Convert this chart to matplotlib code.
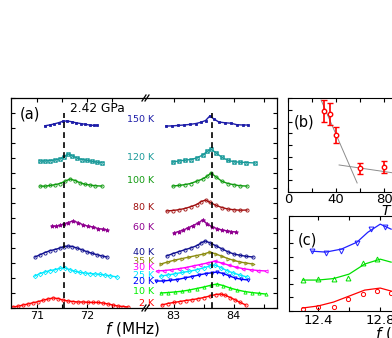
import matplotlib
matplotlib.use("Agg")
import matplotlib.pyplot as plt
from matplotlib.ticker import MultipleLocator, NullFormatter, FixedLocator

plt.rcParams['font.family'] = ['DejaVu Sans']
plt.rcParams['mathtext.fontset'] = 'dejavusans'

# ---- panel (a): stacked spectra, (x, y) with offsets already included ----
t150_lx = [71.16, 71.25, 71.34, 71.43, 71.52, 71.6, 71.69, 71.78, 71.87, 71.96, 72.05, 72.14, 72.2]
t150_ly = [12.15, 12.2, 12.27, 12.35, 12.45, 12.47, 12.42, 12.35, 12.3, 12.25, 12.2, 12.17, 12.18]
t150_rx = [82.87, 82.97, 83.07, 83.17, 83.27, 83.37, 83.45, 83.53, 83.6, 83.67, 83.75, 83.85, 83.95, 84.05, 84.15, 84.23]
t150_ry = [12.13, 12.14, 12.17, 12.2, 12.24, 12.3, 12.38, 12.5, 12.8, 12.6, 12.4, 12.35, 12.32, 12.22, 12.2, 12.2]

t120_lx = [71.06, 71.16, 71.26, 71.36, 71.46, 71.54, 71.62, 71.7, 71.8, 71.9, 72.0, 72.1, 72.2, 72.3]
t120_ly = [9.8, 9.8, 9.83, 9.87, 9.95, 10.1, 10.27, 10.15, 10.0, 9.9, 9.85, 9.78, 9.72, 9.7]
t120_rx = [82.98, 83.08, 83.18, 83.28, 83.38, 83.48, 83.56, 83.62, 83.7, 83.8, 83.9, 84.0, 84.1, 84.2, 84.35]
t120_ry = [9.73, 9.8, 9.85, 9.9, 10.0, 10.2, 10.45, 10.6, 10.35, 10.05, 9.85, 9.75, 9.72, 9.7, 9.67]

t100_lx = [71.06, 71.16, 71.26, 71.36, 71.46, 71.56, 71.66, 71.76, 71.86, 71.96, 72.06, 72.16, 72.3]
t100_ly = [8.13, 8.12, 8.17, 8.22, 8.3, 8.45, 8.6, 8.5, 8.35, 8.25, 8.2, 8.15, 8.13]
t100_rx = [82.98, 83.08, 83.18, 83.28, 83.38, 83.48, 83.56, 83.62, 83.7, 83.8, 83.9, 84.0, 84.1, 84.22]
t100_ry = [8.13, 8.17, 8.22, 8.3, 8.45, 8.6, 8.8, 9.0, 8.75, 8.45, 8.3, 8.22, 8.15, 8.13]

t80_rx = [82.88, 82.98, 83.08, 83.18, 83.28, 83.38, 83.46, 83.53, 83.6, 83.7, 83.8, 83.9, 84.0, 84.1, 84.22]
t80_ry = [6.47, 6.5, 6.55, 6.63, 6.75, 6.9, 7.1, 7.2, 7.05, 6.85, 6.7, 6.6, 6.55, 6.52, 6.53]

t60_lx = [71.3, 71.38, 71.46, 71.54, 71.62, 71.72, 71.82, 71.92, 72.02, 72.12, 72.22, 72.32, 72.4]
t60_ly = [5.47, 5.45, 5.52, 5.6, 5.7, 5.8, 5.7, 5.55, 5.45, 5.4, 5.3, 5.25, 5.2]
t60_rx = [83.0, 83.08, 83.16, 83.24, 83.32, 83.4, 83.48, 83.56, 83.64, 83.72, 83.8, 83.88, 83.96, 84.03]
t60_ry = [5.0, 5.1, 5.2, 5.35, 5.5, 5.65, 5.87, 5.6, 5.4, 5.3, 5.2, 5.15, 5.1, 5.07]

t40_lx = [70.96, 71.06, 71.16, 71.26, 71.36, 71.46, 71.54, 71.62, 71.7, 71.8, 71.9, 72.0, 72.1, 72.2, 72.3, 72.4]
t40_ly = [3.4, 3.55, 3.7, 3.82, 3.9, 4.0, 4.1, 4.13, 4.1, 4.0, 3.88, 3.75, 3.65, 3.55, 3.47, 3.4]
t40_rx = [82.88, 82.98, 83.08, 83.18, 83.28, 83.38, 83.46, 83.52, 83.6, 83.7, 83.8, 83.9, 84.0, 84.1, 84.2, 84.32]
t40_ry = [3.47, 3.62, 3.75, 3.88, 4.0, 4.15, 4.35, 4.47, 4.35, 4.15, 3.95, 3.75, 3.6, 3.52, 3.45, 3.4]

t35_rx = [82.78, 82.9, 83.02, 83.14, 83.26, 83.38, 83.5, 83.6, 83.7, 83.8, 83.9, 84.0, 84.1, 84.2, 84.32]
t35_ry = [2.93, 3.07, 3.2, 3.3, 3.4, 3.5, 3.6, 3.73, 3.6, 3.45, 3.3, 3.17, 3.07, 3.0, 2.93]

t30_rx = [82.72, 82.84, 82.96, 83.08, 83.2, 83.32, 83.44, 83.56, 83.68, 83.8, 83.92, 84.04, 84.16, 84.28, 84.4, 84.53]
t30_ry = [2.47, 2.5, 2.55, 2.62, 2.7, 2.8, 2.9, 3.0, 3.13, 3.0, 2.85, 2.72, 2.62, 2.55, 2.5, 2.47]

t25_lx = [70.96, 71.06, 71.16, 71.26, 71.36, 71.46, 71.56, 71.66, 71.76, 71.86, 71.96, 72.06, 72.16, 72.26, 72.36, 72.46, 72.6]
t25_ly = [2.13, 2.3, 2.4, 2.5, 2.55, 2.65, 2.67, 2.55, 2.45, 2.38, 2.33, 2.3, 2.27, 2.25, 2.2, 2.15, 2.07]
t25_rx = [82.78, 82.9, 83.02, 83.14, 83.26, 83.38, 83.5, 83.6, 83.68, 83.78, 83.88, 83.98, 84.1, 84.22]
t25_ry = [2.13, 2.2, 2.28, 2.37, 2.45, 2.55, 2.68, 2.8, 2.87, 2.7, 2.5, 2.35, 2.2, 2.07]

t20_rx = [82.7, 82.82, 82.94, 83.06, 83.18, 83.3, 83.42, 83.54, 83.64, 83.72, 83.82, 83.92, 84.02, 84.12, 84.23]
t20_ry = [1.8, 1.8, 1.85, 1.9, 2.0, 2.1, 2.2, 2.3, 2.35, 2.4, 2.3, 2.15, 2.0, 1.92, 1.87]

t10_rx = [82.78, 82.9, 83.02, 83.14, 83.26, 83.38, 83.5, 83.62, 83.72, 83.82, 83.94, 84.06, 84.18, 84.3, 84.42, 84.53]
t10_ry = [1.0, 1.03, 1.07, 1.12, 1.2, 1.3, 1.4, 1.52, 1.6, 1.5, 1.33, 1.2, 1.1, 1.03, 0.98, 0.93]

t2_lx = [70.52, 70.62, 70.72, 70.82, 70.92, 71.02, 71.12, 71.22, 71.32, 71.42, 71.52, 71.62,
         71.72, 71.82, 71.92, 72.02, 72.12, 72.22, 72.32, 72.42, 72.52, 72.62, 72.72, 72.82]
t2_ly = [0.07, 0.12, 0.2, 0.27, 0.35, 0.42, 0.52, 0.6, 0.67, 0.63, 0.53, 0.47,
         0.43, 0.4, 0.4, 0.38, 0.37, 0.37, 0.33, 0.27, 0.2, 0.13, 0.1, 0.07]
t2_rx = [82.8, 82.9, 83.0, 83.1, 83.2, 83.3, 83.4, 83.5, 83.6, 83.7, 83.78, 83.86, 83.94, 84.02, 84.1, 84.2]
t2_ry = [0.2, 0.3, 0.37, 0.43, 0.5, 0.55, 0.62, 0.7, 0.8, 0.9, 0.93, 0.85, 0.7, 0.55, 0.38, 0.2]

temp_labels = ["150 K", "120 K", "100 K", "80 K", "60 K", "40 K", "35 K", "30 K", "25 K", "20 K", "10 K", "2 K"]
label_y = [12.6, 10.0, 8.47, 6.73, 5.4, 3.73, 3.07, 2.67, 2.2, 1.8, 1.07, 0.33]
colors = ["#1c1ca8", "#1a9a9a", "#109a10", "#a01010", "#900090", "#101090",
          "#8c8c10", "#ff00ff", "#00e8ff", "#0000ff", "#00f000", "#ff0000"]
markers = ["s", "$\\boxtimes$", "o", "o", "*", "o", ">", "<", "D", "v", "^", "o"]
left_x = [t150_lx, t120_lx, t100_lx, None, t60_lx, t40_lx, None, None, t25_lx, None, None, t2_lx]
left_y = [t150_ly, t120_ly, t100_ly, None, t60_ly, t40_ly, None, None, t25_ly, None, None, t2_ly]
right_x = [t150_rx, t120_rx, t100_rx, t80_rx, t60_rx, t40_rx, t35_rx, t30_rx, t25_rx, t20_rx, t10_rx, t2_rx]
right_y = [t150_ry, t120_ry, t100_ry, t80_ry, t60_ry, t40_ry, t35_ry, t30_ry, t25_ry, t20_ry, t10_ry, t2_ry]

peak_left = 71.54
peak_right = 83.63

# ---- panel (b) ----
b_T = [30, 35, 40, 60, 80]
b_y = [6.9, 6.64, 4.85, 2.04, 2.13]
b_err = [0.93, 0.93, 0.68, 0.47, 0.51]
b_line1_T = [27.5, 57.5]
b_line1_y = [7.83, 0.77]
b_line2_T = [42.5, 90.0]
b_line2_y = [2.3, 1.59]

# ---- panel (c) ----
c_red_f = [12.30, 12.40, 12.50, 12.59, 12.69, 12.78, 12.87]
c_red_y = [0.15, 0.29, 0.29, 0.88, 1.25, 1.47, 1.32]
c_red_fit_f = [12.30, 12.40, 12.50, 12.60, 12.70, 12.80, 12.87]
c_red_fit_y = [0.22, 0.37, 0.66, 1.1, 1.54, 1.69, 1.47]
c_grn_f = [12.30, 12.40, 12.50, 12.59, 12.69, 12.78]
c_grn_y = [2.28, 2.35, 2.35, 2.43, 3.53, 3.82]
c_grn_fit_f = [12.30, 12.40, 12.50, 12.60, 12.70, 12.80, 12.87]
c_grn_fit_y = [2.28, 2.28, 2.39, 2.72, 3.46, 3.82, 3.6]
c_blu_f = [12.36, 12.45, 12.55, 12.65, 12.74, 12.83]
c_blu_y = [4.41, 4.26, 4.41, 5.0, 6.03, 6.18]
c_blu_fit_f = [12.36, 12.45, 12.55, 12.65, 12.72, 12.80, 12.87]
c_blu_fit_y = [4.41, 4.34, 4.56, 5.07, 5.8, 6.4, 6.03]

W, H = 392, 338
fig = plt.figure(figsize=(W / 100, H / 100), dpi=100)


def box(x0, y_top, x1, y_bot):
    return [x0 / W, (H - y_bot) / H, (x1 - x0) / W, (y_bot - y_top) / H]


axL = fig.add_axes(box(11, 98, 145, 308))
axR = fig.add_axes(box(145, 98, 277, 308))

for ax in (axL, axR):
    ax.set_ylim(0, 14)
    ax.yaxis.set_major_locator(MultipleLocator(1))
    ax.yaxis.set_major_formatter(NullFormatter())
    ax.tick_params(direction='in', length=3, width=0.8, top=True, labelsize=8, pad=2)
    ax.tick_params(which='minor', direction='in', length=3, width=0.8, top=True)
    for s in ax.spines.values():
        s.set_linewidth(0.9)

axL.set_xlim(70.48, 73.16)
axR.set_xlim(82.52, 84.72)
axL.xaxis.set_major_locator(FixedLocator([71, 72]))
axL.xaxis.set_minor_locator(FixedLocator([71.5, 72.5]))
axR.xaxis.set_major_locator(FixedLocator([83, 84]))
axR.xaxis.set_minor_locator(FixedLocator([83.5, 84.5]))
axL.spines['right'].set_visible(False)
axR.spines['left'].set_visible(False)
axL.tick_params(right=False)
axR.tick_params(left=False, right=True)

for i in range(len(temp_labels)):
    kw = dict(color=colors[i], marker=markers[i], ms=2.3, mfc='none', mew=0.6, lw=1.0)
    if markers[i] == "s":
        kw.update(ms=1.8, mfc=colors[i])
    if markers[i] == "*":
        kw.update(ms=3.0, mfc=colors[i])
    if markers[i] == "$\\boxtimes$":
        kw.update(ms=3.0, mew=0.3)
    if left_x[i] is not None:
        axL.plot(left_x[i], left_y[i], **kw)
    axR.plot(right_x[i], right_y[i], **kw)
    axR.text(82.67, label_y[i], temp_labels[i], color=colors[i], fontsize=6.8,
             ha='right', va='center', clip_on=False)

axL.plot([peak_left, peak_left], [0, 13], 'k--', lw=1.2, dashes=(3.5, 2.5))
axR.plot([peak_right, peak_right], [0, 13], 'k--', lw=1.2, dashes=(3.5, 2.5))

# break marks
for yy in (98, 308):
    for dx in (-1, 2):
        x0 = (145 + dx - 2) / W
        fig.add_artist(plt.Line2D([x0, x0 + 4 / W], [(H - yy - 3) / H, (H - yy + 3) / H],
                                  color='k', lw=0.9))

fig.text(20 / W, (H - 114) / H, "(a)", fontsize=10.5, va='center')
fig.text(70 / W, (H - 108) / H, "2.42 GPa", fontsize=8.8, va='center')
fig.text(133 / W, (H - 329) / H, "$f$ (MHz)", fontsize=11, ha='center', va='center')

# panel (b)
axb = fig.add_axes(box(288, 98, 508, 192))
axb.plot(b_line1_T, b_line1_y, color='0.55', lw=0.7)
axb.plot(b_line2_T, b_line2_y, color='0.55', lw=0.7)
axb.errorbar(b_T, b_y, yerr=b_err, fmt='o', color='#ff0000', ms=3.2, mfc='white',
             mew=1.0, elinewidth=1.2, capsize=2, capthick=1.0)
axb.set_xlim(0, 183)
axb.set_ylim(0, 8)
axb.xaxis.set_major_locator(MultipleLocator(40))
axb.xaxis.set_minor_locator(MultipleLocator(20))
axb.yaxis.set_major_locator(MultipleLocator(1))
axb.yaxis.set_major_formatter(NullFormatter())
axb.tick_params(direction='in', length=3, width=0.8, top=True, right=True, labelsize=9.5, pad=1)
axb.tick_params(which='minor', direction='in', length=3, width=0.8, top=True)
axb.set_xlabel("$T$ (K)", fontsize=10, labelpad=-3)
axb.text(0.025, 0.7, "(b)", transform=axb.transAxes, fontsize=10.5)

# panel (c)
axc = fig.add_axes(box(289, 216, 517, 311))
axc.plot(c_red_fit_f, c_red_fit_y, color='#ff0000', lw=0.9)
axc.plot(c_red_f, c_red_y, 'o', color='#ff0000', ms=3, mfc='none', mew=0.7)
axc.plot(c_grn_fit_f, c_grn_fit_y, color='#00e000', lw=0.9)
axc.plot(c_grn_f, c_grn_y, '^', color='#00e000', ms=3.5, mfc='none', mew=0.7)
axc.plot(c_blu_fit_f, c_blu_fit_y, color='#2020ff', lw=0.9)
axc.plot(c_blu_f, c_blu_y, 'v', color='#2020ff', ms=3.5, mfc='none', mew=0.7)
axc.set_xlim(12.213, 13.68)
axc.set_ylim(0, 7)
axc.xaxis.set_major_locator(MultipleLocator(0.4))
axc.xaxis.set_minor_locator(MultipleLocator(0.2))
axc.yaxis.set_major_locator(MultipleLocator(1))
axc.yaxis.set_major_formatter(NullFormatter())
axc.tick_params(direction='in', length=3, width=0.8, top=True, right=True, labelsize=9.5, pad=2)
axc.tick_params(which='minor', direction='in', length=3, width=0.8, top=True)
axc.set_xlabel("$f$ (MHz)", fontsize=11, labelpad=-1)
axc.text(0.04, 0.7, "(c)", transform=axc.transAxes, fontsize=10.5)

fig.savefig("out.png", dpi=100)
